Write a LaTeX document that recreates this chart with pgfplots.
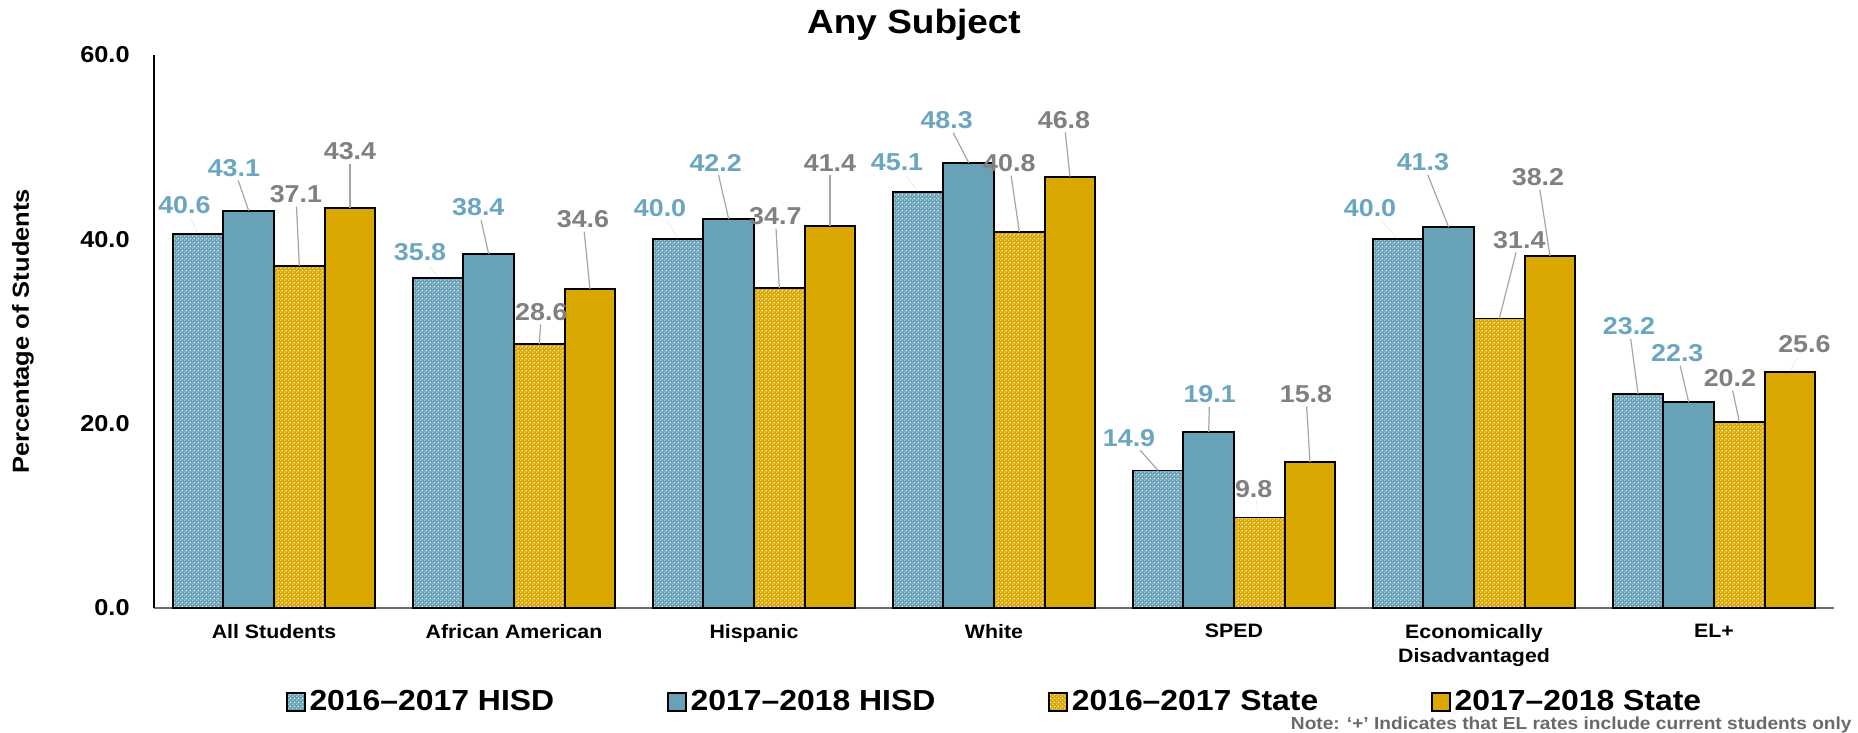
\documentclass[border=0pt]{standalone}
\usepackage{pgfplots}
\pgfplotsset{compat=1.18}
\usepackage{pgfplotstable}
\usepackage{fontspec}
\setmainfont{Liberation Sans}[FakeStretch=1.1]
\usetikzlibrary{patterns.meta}

\definecolor{hblue}{RGB}{103,162,185}
\definecolor{sgold}{RGB}{218,168,0}
\definecolor{lblue}{RGB}{107,166,192}
\definecolor{lgray}{RGB}{128,128,128}
\definecolor{leadgray}{RGB}{166,166,166}
\definecolor{xgray}{RGB}{110,110,110}
\definecolor{notegray}{RGB}{105,105,105}

\pgfdeclarepattern{
  name=checker,
  type=uncolored,
  bottom left={\pgfpoint{0pt}{0pt}},
  top right={\pgfpoint{2pt}{2pt}},
  tile size={\pgfpoint{2pt}{2pt}},
  code={
    \pgfpathrectangle{\pgfpoint{0.2pt}{0.2pt}}{\pgfpoint{0.6pt}{0.6pt}}
    \pgfpathrectangle{\pgfpoint{1.2pt}{1.2pt}}{\pgfpoint{0.6pt}{0.6pt}}
    \pgfusepath{fill}
  }
}

\newcommand\lblfont{\fontsize{12.2}{14}\selectfont\bfseries}

\pgfplotstableread{
x y dx dy lo
0 40.6 -6.8 13.9 0
1 35.8 -9.0 12.5 0
2 40.0 -9.0 15.4 0
3 45.1 -10.5 14.5 0
4 14.9 -14.5 16.0 1
5 40.0 -14.0 15.4 0
6 23.2 -4.5 33.4 1
}\tA
\pgfplotstableread{
x y dx dy lo
0 43.1 -7.4 21.0 1
1 38.4 -5.2 22.9 1
2 42.2 -6.5 27.8 1
3 48.3 -11.0 21.0 1
4 19.1 0.5 18.5 1
5 41.3 -12.9 32.0 1
6 22.3 -5.7 24.2 1
}\tB
\pgfplotstableread{
x y dx dy lo
0 37.1 -1.7 35.5 1
1 28.6 1.0 15.8 1
2 34.7 -2.0 35.5 1
3 40.8 -5.0 34.0 1
4 9.8 -2.8 14.0 0
5 31.4 10.0 39.0 1
6 20.2 -4.7 21.4 1
}\tC
\pgfplotstableread{
x y dx dy lo
0 43.4 0.0 28.0 1
1 34.6 -3.5 34.5 1
2 41.4 0.0 31.5 1
3 46.8 -3.0 28.0 1
4 15.8 -2.0 33.8 1
5 38.2 -6.0 39.0 1
6 25.6 7.2 13.5 0
}\tD

\pgfplotsset{
  vallabels/.style 2 args={
    nodes near coords={},
    visualization depends on={\thisrow{dx}\as\ldx},
    visualization depends on={\thisrow{dy}\as\ldy},
    visualization depends on={\thisrow{lo}\as\llo},
    visualization depends on={\thisrow{y}\as\lval},
    every node near coord/.style={inner sep=0pt, outer sep=0pt, minimum size=0pt, xshift=#2,
      pin={[pin distance=0pt, xshift=\ldx pt, yshift={\ldy pt - 5.9pt},
            inner sep=1.5pt, font=\lblfont, text=#1,
            pin edge={leadgray, line width=0.6pt, draw opacity=\llo}]90:{\pgfmathprintnumber[fixed,fixed zerofill,precision=1,assume math mode=true]{\lval}}}},
  },
  mybar/.style={ybar, bar width=0.211, draw=black, line width=0.9pt,
    legend image code/.code={\draw[##1, line width=0.9pt] (0pt,-4.4pt) rectangle (8.8pt,4.4pt);}},
}

\begin{document}
\begin{tikzpicture}
\path[use as bounding box] (0,0) rectangle (929pt,-366.5pt);
\begin{axis}[
  at={(77pt,-303.85pt)}, anchor=south west,
  scale only axis, width=840pt, height=276.35pt,
  xmin=-0.5, xmax=6.5, ymin=0, ymax=60,
  clip=false,
  axis x line*=bottom, axis y line*=left,
  axis line style={-},
  x axis line style={draw=xgray, line width=0.8pt},
  y axis line style={draw=black, line width=0.6pt},
  tick style={draw=none},
  xtick={0,...,6},
  xticklabels={All Students, African American, Hispanic, White, SPED, {Economically\\Disadvantaged}, EL+},
  xticklabel style={font=\fontsize{9.7}{12}\selectfont\bfseries, align=center, anchor=north, inner sep=0pt, yshift=-8pt},
  ytick={0,20,40,60},
  /pgf/number format/assume math mode=true,
  yticklabel={\pgfmathprintnumber[fixed,fixed zerofill,precision=1]{\tick}},
  yticklabel style={font=\fontsize{11.5}{13}\selectfont\bfseries, anchor=east, inner sep=0pt, xshift=-12pt},
  ylabel={Percentage of Students},
  every axis y label/.style={at={(axis description cs:-0.078,0.5)}, anchor=center, rotate=90, font=\fontsize{11.6}{14}\selectfont\bfseries},
  legend columns=4,
  legend cell align=left,
  legend style={at={(axis description cs:0.501,-0.1706)}, anchor=center, draw=none, fill=none,
    font=\fontsize{14.5}{17}\selectfont\bfseries,
    /tikz/every even column/.append style={column sep=54.5pt}},
]
\addplot[mybar, bar shift=-0.3165, fill=hblue, postaction={pattern=checker, pattern color=white}, vallabels={lblue}{-37.98pt}]
  table[x=x, y=y] {\tA};
\addlegendentry{2016–2017 HISD}
\addplot[mybar, bar shift=-0.1055, fill=hblue, vallabels={lblue}{-12.66pt}]
  table[x=x, y=y] {\tB};
\addlegendentry{2017–2018 HISD}
\addplot[mybar, bar shift=0.1055, fill=sgold, postaction={pattern=checker, pattern color=white}, vallabels={lgray}{12.66pt}]
  table[x=x, y=y] {\tC};
\addlegendentry{2016–2017 State}
\addplot[mybar, bar shift=0.3165, fill=sgold, vallabels={lgray}{37.98pt}]
  table[x=x, y=y] {\tD};
\addlegendentry{2017–2018 State}
\end{axis}
\node[anchor=base] at (457pt,-17pt) {\fontsize{16.8}{20}\selectfont\bfseries Any Subject};
\node[anchor=base east, inner sep=0pt, text=notegray] at (926pt,-364.5pt) {\fontsize{8.7}{10}\selectfont\bfseries Note: ‘+’ Indicates that EL rates include current students only};
\end{tikzpicture}
\end{document}
